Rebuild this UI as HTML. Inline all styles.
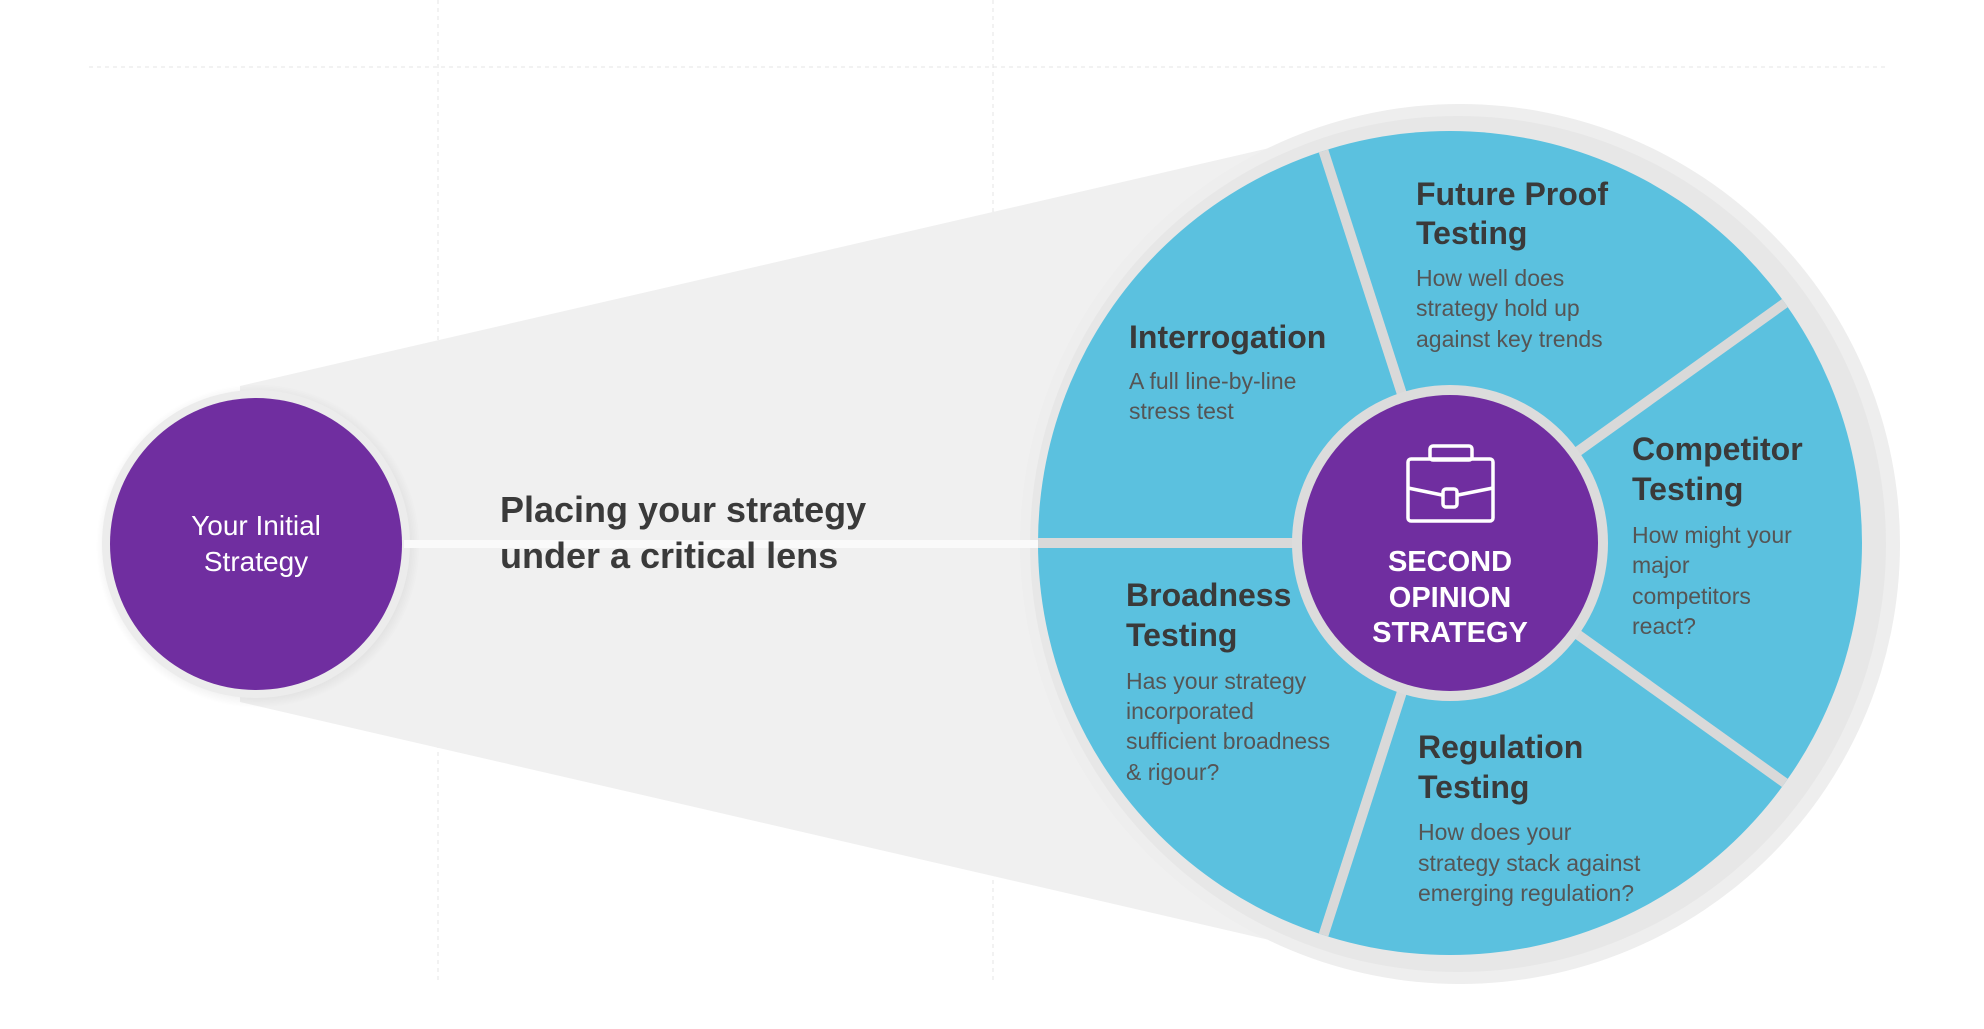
<!DOCTYPE html>
<html><head><meta charset="utf-8"><style>
html,body{margin:0;padding:0;background:#fff;width:1984px;height:1029px;overflow:hidden}
svg{display:block}
.t{font-family:"Liberation Sans",sans-serif;font-weight:bold;fill:#3a3a3a;font-size:32px}
.b{font-family:"Liberation Sans",sans-serif;fill:#555;font-size:23px}
</style></head><body>
<svg width="1984" height="1029" viewBox="0 0 1984 1029" xmlns="http://www.w3.org/2000/svg">
<defs>
<radialGradient id="sh" cx="0.5" cy="0.5" r="0.5">
<stop offset="0.85" stop-color="#000" stop-opacity="0.12"/>
<stop offset="1" stop-color="#000" stop-opacity="0"/>
</radialGradient>
<clipPath id="cp"><circle cx="1450" cy="543" r="412"/></clipPath>
</defs>
<line x1="89" y1="67" x2="1888" y2="67" stroke="#e4e4e4" stroke-dasharray="4,4"/>
<line x1="438" y1="0" x2="438" y2="984" stroke="#e4e4e4" stroke-dasharray="4,4"/>
<line x1="993" y1="0" x2="993" y2="984" stroke="#e4e4e4" stroke-dasharray="4,4"/>
<polygon points="240,386 1460,104 1460,984 240,702" fill="#f0f0f0"/>
<circle cx="1460" cy="544" r="440" fill="#eeeeee"/>
<circle cx="1458" cy="544" r="428" fill="#e7e7e7"/>
<circle cx="258" cy="546" r="162" fill="url(#sh)"/>
<circle cx="256" cy="544" r="154" fill="#ececec"/>
<circle cx="256" cy="544" r="146" fill="#702ea0"/>
<text x="256" y="535" text-anchor="middle" font-family="Liberation Sans,sans-serif" font-size="28" fill="#fff">Your Initial</text>
<text x="256" y="571" text-anchor="middle" font-family="Liberation Sans,sans-serif" font-size="28" fill="#fff">Strategy</text>
<rect x="404" y="540" width="640" height="8" fill="#fafafa"/>
<text x="500" y="522" class="t" style="font-size:36px">Placing your strategy</text>
<text x="500" y="568" class="t" style="font-size:36px">under a critical lens</text>
<circle cx="1450" cy="543" r="412" fill="#5bc1df"/>
<g stroke="#d9d9d9" stroke-width="10" clip-path="url(#cp)">
<line x1="1450" y1="543" x2="1320" y2="140"/>
<line x1="1450" y1="543" x2="1792" y2="298"/>
<line x1="1450" y1="543" x2="1792" y2="788"/>
<line x1="1450" y1="543" x2="1320" y2="946"/>
<line x1="1450" y1="543" x2="1030" y2="543"/>
</g>
<circle cx="1450" cy="543" r="158" fill="#dcdcdc"/>
<circle cx="1450" cy="543" r="148" fill="#702ea0"/>
<g fill="none" stroke="#fff" stroke-width="3.5" stroke-linejoin="round">
<rect x="1430" y="446" width="42" height="14" rx="3"/>
<rect x="1408" y="459" width="85" height="62" rx="3"/>
<path d="M1408 488 L1442 495 M1458 495 L1493 488"/>
<rect x="1443" y="489" width="14" height="18" rx="3"/>
</g>
<g font-family="Liberation Sans,sans-serif" font-weight="bold" font-size="29" fill="#fff" text-anchor="middle">
<text x="1450" y="571">SECOND</text>
<text x="1450" y="607">OPINION</text>
<text x="1450" y="642">STRATEGY</text>
</g>
<text class="t" x="1416" y="205">Future Proof</text>
<text class="t" x="1416" y="244">Testing</text>
<text class="b" x="1416" y="286">How well does</text>
<text class="b" x="1416" y="316">strategy hold up</text>
<text class="b" x="1416" y="347">against key trends</text>

<text class="t" x="1129" y="348">Interrogation</text>
<text class="b" x="1129" y="389">A full line-by-line</text>
<text class="b" x="1129" y="419">stress test</text>

<text class="t" x="1632" y="460">Competitor</text>
<text class="t" x="1632" y="500">Testing</text>
<text class="b" x="1632" y="543">How might your</text>
<text class="b" x="1632" y="573">major</text>
<text class="b" x="1632" y="604">competitors</text>
<text class="b" x="1632" y="634">react?</text>

<text class="t" x="1126" y="606">Broadness</text>
<text class="t" x="1126" y="646">Testing</text>
<text class="b" x="1126" y="689">Has your strategy</text>
<text class="b" x="1126" y="719">incorporated</text>
<text class="b" x="1126" y="749">sufficient broadness</text>
<text class="b" x="1126" y="780">&amp; rigour?</text>

<text class="t" x="1418" y="758">Regulation</text>
<text class="t" x="1418" y="798">Testing</text>
<text class="b" x="1418" y="840">How does your</text>
<text class="b" x="1418" y="871">strategy stack against</text>
<text class="b" x="1418" y="901">emerging regulation?</text>
</svg>
</body></html>
